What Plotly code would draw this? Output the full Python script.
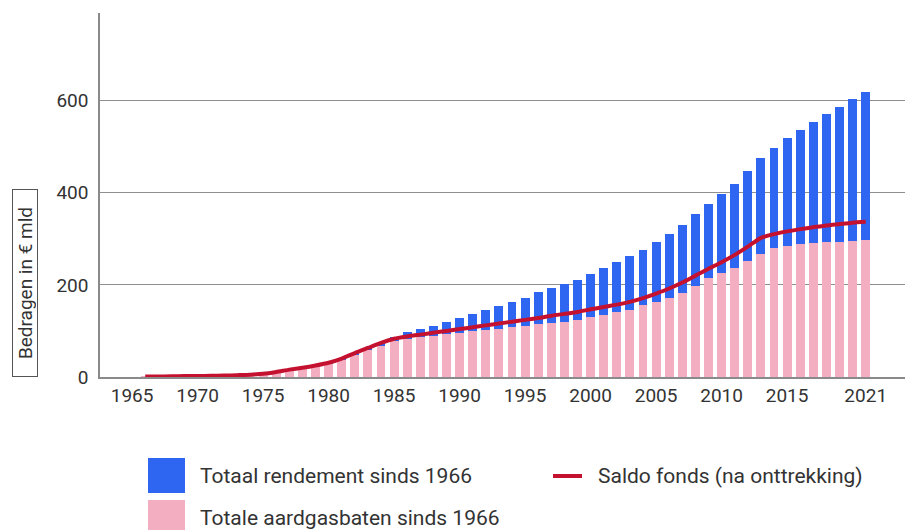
import plotly.graph_objects as go

years = list(range(1966, 2022))

# Totale aardgasbaten sinds 1966 (cumulatief, € mld)
aardgasbaten = [1, 1, 1.5, 2, 2, 2.5, 3, 4, 5, 7,
                10, 14, 19, 24, 30, 38, 49, 60, 69, 78,
                83, 87, 90, 93, 96, 99, 102, 105, 108, 111,
                114, 117, 120, 124, 130, 135, 140, 146, 156, 163,
                172, 183, 197, 214, 226, 237, 252, 268, 280, 285,
                288, 290, 292, 294, 295, 297]

# Totaal rendement sinds 1966 (€ mld)
rendement = [0, 0, 0, 0, 0, 0, 0, 0, 0, 0.5,
             0.5, 0.5, 1, 1, 1, 1.5, 1.5, 2, 4, 8,
             14, 17, 21, 26, 31, 38, 44, 50, 55, 61,
             70, 76, 82, 87, 93, 101, 109, 116, 120, 129,
             139, 146, 157, 161, 171, 182, 195, 207, 218, 233,
             247, 263, 278, 291, 308, 322]

# Saldo fonds (na onttrekking) (€ mld)
saldo = [1, 1, 1.5, 2, 2, 2.5, 3, 4, 5, 7,
         11, 16, 20, 25, 31, 40, 52, 63, 74, 83,
         88, 92, 96, 100, 104, 108, 112, 116, 120, 124,
         128, 133, 137, 141, 147, 152, 157, 163, 171, 181,
         192, 205, 220, 235, 249, 265, 283, 302, 310, 316,
         321, 325, 329, 332, 335, 337]

x_tickvals = [1965, 1970, 1975, 1980, 1985, 1990, 1995, 2000, 2005, 2010, 2015, 2021]
y_tickvals = [0, 200, 400, 600]

BLUE = "#2E66F2"
PINK = "#F3AFC1"
RED = "#C4112F"
TXT = "#333333"
FONT = "Roboto"

fig = go.Figure()
fig.add_trace(go.Bar(x=years, y=aardgasbaten, marker_color=PINK, marker_line_width=0,
                     width=0.68, name="Totale aardgasbaten sinds 1966"))
fig.add_trace(go.Bar(x=years, y=rendement, marker_color=BLUE, marker_line_width=0,
                     width=0.68, name="Totaal rendement sinds 1966"))
fig.add_trace(go.Scatter(x=years, y=saldo, mode="lines",
                         line=dict(color=RED, width=4, shape="spline", smoothing=0.6),
                         name="Saldo fonds (na onttrekking)"))

W, H = 905, 530
ML, MR, MT, MB = 100, 0, 13, 153
PW, PH = W - ML - MR, H - MT - MB

def px(xp):
    return (xp - ML) / PW

def py(yp):
    return (H - MB - yp) / PH

fig.update_layout(
    width=W, height=H,
    margin=dict(l=ML, r=MR, t=MT, b=MB),
    barmode="stack", bargap=0,
    showlegend=False,
    plot_bgcolor="white", paper_bgcolor="white",
    font=dict(family=FONT, size=19, color=TXT),
    xaxis=dict(range=[1962.55, 2024.0], tickvals=x_tickvals, ticktext=[str(v) for v in x_tickvals],
               showgrid=False, zeroline=False, showline=True, linecolor="#8a8a8a", linewidth=1.5,
               ticks="", ticklabelstandoff=0, tickfont=dict(size=19, color=TXT)),
    yaxis=dict(range=[0, 790], tickvals=y_tickvals, showgrid=True, gridcolor="#8f8f8f", gridwidth=1.2,
               zeroline=False, showline=True, linecolor="#8a8a8a", linewidth=1.5,
               ticks="", ticklabelstandoff=6, tickfont=dict(size=19, color=TXT)),
)

shapes = [
    dict(type="rect", xref="paper", yref="paper", x0=px(148), x1=px(185), y0=py(493), y1=py(458),
         fillcolor=BLUE, line=dict(width=0)),
    dict(type="rect", xref="paper", yref="paper", x0=px(148), x1=px(185), y0=py(532), y1=py(500),
         fillcolor=PINK, line=dict(width=0)),
    dict(type="line", xref="paper", yref="paper", x0=px(553), x1=px(582), y0=py(476), y1=py(476),
         line=dict(color=RED, width=4)),
]
fig.update_layout(shapes=shapes)

annotations = [
    dict(text="Totaal rendement sinds 1966", xref="paper", yref="paper", x=px(198), y=py(476),
         xanchor="left", yanchor="middle", showarrow=False, font=dict(size=21, color=TXT)),
    dict(text="Totale aardgasbaten sinds 1966", xref="paper", yref="paper", x=px(198), y=py(518),
         xanchor="left", yanchor="middle", showarrow=False, font=dict(size=21, color=TXT)),
    dict(text="Saldo fonds (na onttrekking)", xref="paper", yref="paper", x=px(596), y=py(476),
         xanchor="left", yanchor="middle", showarrow=False, font=dict(size=21, color=TXT)),
    dict(text="Bedragen in € mld", xref="paper", yref="paper", x=px(25), y=py(283),
         xanchor="center", yanchor="middle", showarrow=False, textangle=-90,
         font=dict(size=19, color=TXT), bordercolor="#555555", borderwidth=1, borderpad=1,
         width=184, height=22),
]
fig.update_layout(annotations=annotations)

fig.write_html("out.html", config={"displayModeBar": False},
               post_script="document.body.style.margin='0px';document.body.style.overflow='hidden';")
